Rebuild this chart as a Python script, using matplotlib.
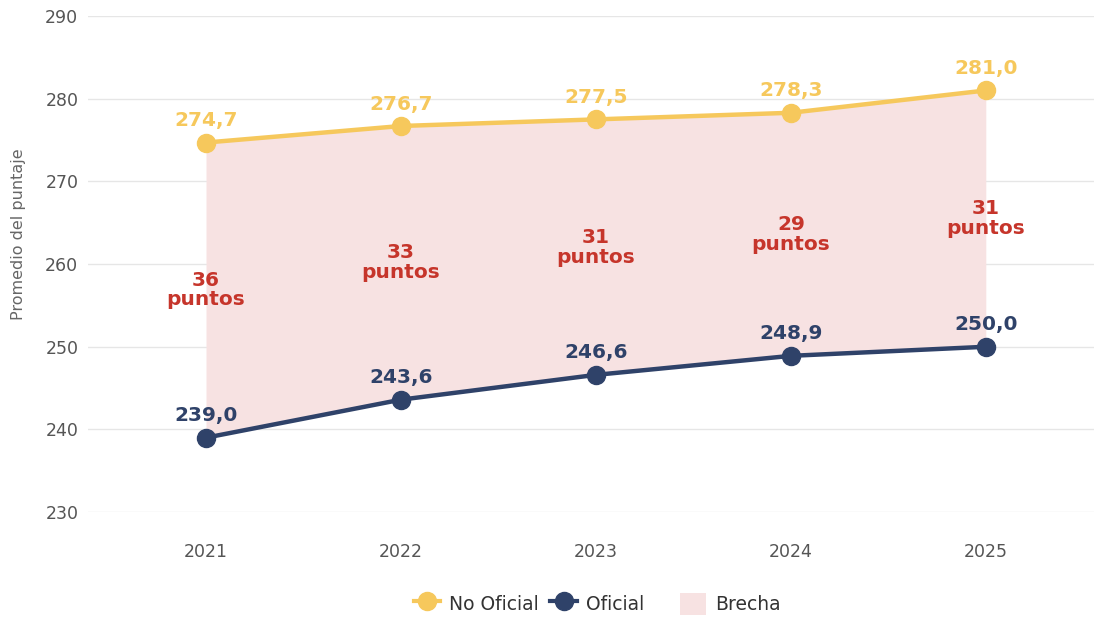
import matplotlib
matplotlib.use("Agg")
import matplotlib.pyplot as plt
from matplotlib.lines import Line2D
from matplotlib.patches import Patch

plt.rcParams['font.family'] = ['DejaVu Sans']

# datos del grafico
years = ['2021', '2022', '2023', '2024', '2025']
no_oficial = [274.7, 276.7, 277.5, 278.3, 281.0]
oficial = [239.0, 243.6, 246.6, 248.9, 250.0]
brecha = [36, 33, 31, 29, 31]
y_ticks = [230, 240, 250, 260, 270, 280, 290]

c_no = '#f6c85c'
c_of = '#2f4269'
c_gap = '#f7e2e2'
c_txt = '#c6352b'

fig = plt.figure(figsize=(10.94, 6.17), dpi=100)
ax = fig.add_axes([0.0805, 0.170, 0.9195, 0.804])

x = list(range(len(years)))

ax.fill_between(x, oficial, no_oficial, color=c_gap, lw=0, zorder=1)
ax.plot(x, no_oficial, color=c_no, lw=3.2, marker='o', ms=13, zorder=3)
ax.plot(x, oficial, color=c_of, lw=3.2, marker='o', ms=13, zorder=3)

for i in x:
    ax.annotate(f"{no_oficial[i]:.1f}".replace('.', ','), (i, no_oficial[i]),
                xytext=(0, 9), textcoords='offset points', ha='center', va='bottom',
                color=c_no, fontsize=14.5, fontweight='bold')
    ax.annotate(f"{oficial[i]:.1f}".replace('.', ','), (i, oficial[i]),
                xytext=(0, 9), textcoords='offset points', ha='center', va='bottom',
                color=c_of, fontsize=14.5, fontweight='bold')
    mid = (no_oficial[i] + oficial[i]) / 2
    ax.text(i, mid, f"{brecha[i]}\npuntos", ha='center', va='center',
            color=c_txt, fontsize=14.5, fontweight='bold', linespacing=1.05)

ax.set_xlim(-0.605, 4.555)
ax.set_ylim(230, 290)
ax.set_yticks(y_ticks)
ax.set_xticks(x)
ax.set_xticklabels(years)
ax.grid(axis='y', color='#e6e6e6', lw=1)
ax.set_axisbelow(True)
for s in ax.spines.values():
    s.set_visible(False)
ax.tick_params(length=0, labelsize=12.5, colors='#555555', pad=7)
ax.tick_params(axis='x', pad=22)
ax.set_ylabel('Promedio del puntaje', color='#666666', fontsize=11.5)
ax.yaxis.set_label_coords(-0.062, 0.56)

handles = [
    Line2D([0], [0], color=c_no, lw=3, marker='o', ms=13),
    Line2D([0], [0], color=c_of, lw=3, marker='o', ms=13),
    Patch(facecolor=c_gap, edgecolor='none'),
]
fig.legend(handles, ['No Oficial', 'Oficial    ', 'Brecha'], loc='center',
           bbox_to_anchor=(0.546, 0.021), ncol=3, frameon=False, fontsize=13.5,
           handlelength=1.4, handleheight=1.5, columnspacing=0.6, handletextpad=0.5,
           labelcolor='#333333')

fig.savefig('out.png', dpi=100)
